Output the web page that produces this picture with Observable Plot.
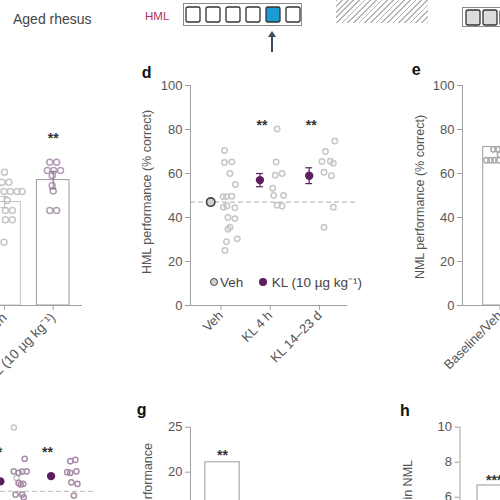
<!DOCTYPE html>
<html>
<head>
<meta charset="utf-8">
<script src="https://cdn.jsdelivr.net/npm/d3@7"></script>
<script src="https://cdn.jsdelivr.net/npm/@observablehq/plot@0.6"></script>
<style>
html,body{margin:0;padding:0;background:#fff;}
#root{position:relative;width:500px;height:500px;overflow:hidden;background:#fff;font-family:"Liberation Sans",Arial,sans-serif;color:#555;}
#root > *{position:absolute;}
.panel{font-weight:bold;font-size:16px;color:#111;line-height:16px;white-space:nowrap;}
.ylab{font-size:12.5px;color:#555;line-height:14px;white-space:nowrap;}
.txt{white-space:nowrap;}
</style>
</head>
<body>
<div id="root"></div>
<script>
// ================= DATA =================
// panel c (partial, left)
const cCategories = ["Veh", "KL (10 µg kg⁻¹)"];
const cMeans = [47, 57];
const cSem = [2.5, 4];
const cVehValues = [60.6, 56, 56, 51.8, 51.8, 51.8, 51.8, 47.7, 43.2, 43.2, 39, 39, 28.8];
const cVehJitter = [0, -0.05, 0.09, -0.01, 0.12, 0.26, 0.36, 0.055, 0.02, 0.16, 0.02, 0.16, -0.01];
const cKlValues = [65.1, 65.1, 61.4, 61.4, 61.4, 59.1, 54.5, 52, 43.2, 43.2];
const cKlJitter = [-0.07, 0.07, -0.12, 0.01, 0.15, -0.02, -0.02, 0, -0.07, 0.07];
const cStars = [{category: 1, y: 77.7, label: "**"}];

// panel d
const dCategories = ["Veh", "KL 4 h", "KL 14–23 d"];
const dMeans = [47, 57, 59];
const dSem = [1, 3, 3.6];
const dBaseline = 47;
const dVehValues = [70.5, 65, 65.3, 60, 55, 49.5, 49.5, 49.7, 44.7, 44.4, 45.2, 40, 39.5, 35.6, 34.7, 30.3, 29, 25];
const dVehJitter = [0.07, 0.07, 0.22, 0.18, 0.29, 0.04, 0.11, 0.22, 0.05, 0.28, 0.12, 0.14, 0.28, 0.18, 0.14, 0.33, 0.11, 0.08];
const dKl4Values = [80.2, 65.2, 59.2, 60, 53.3, 50, 50, 45.6, 45.2];
const dKl4Jitter = [0.14, 0.12, 0.10, 0.24, 0.05, 0.07, 0.27, 0.14, 0.24];
const dKl14Values = [74.8, 70, 65.5, 65.6, 64.7, 60.6, 59, 44.7, 35.6];
const dKl14Jitter = [0.31, 0.12, 0.05, 0.22, 0.28, 0.09, 0.24, 0.28, 0.09];
const dStars = [{category: 1, y: 83.5, label: "**"}, {category: 2, y: 83.5, label: "**"}];
const dTicks = [0, 20, 40, 60, 80, 100];

// panel e (partial, right)
const eCategories = ["Baseline/Veh"];
const eMeans = [72];
const eValues = [71, 71, 68.5, 66, 66, 66, 66];
const eJitter = [-0.13, -0.05, 0, -0.27, -0.19, -0.11, -0.03];

// panel f (partial, bottom left)
const fMeans = [75.5, 77.9];
const fBaseline = 71;
const fVehValues = [100, 77.1];
const fVehJitter = [0.065, 0.12];
const fAValues = [85.8, 80.1, 79.4, 80, 80.1, 74.8, 74.1, 74.4, 69.5, 69.5, 68.3];
const fAJitter = [0.28, 0.065, 0.16, 0.23, 0.32, 0.16, 0.2, 0.25, 0.1, 0.23, 0.26];
const fBValues = [84.7, 85.3, 79.7, 79.4, 80.1, 75.1, 74.4, 69.1];
const fBJitter = [0.18, 0.28, 0.12, 0.18, 0.3, 0.2, 0.32, 0.25];
const fStars = [{category: 0, y: 90.5, label: "**"}, {category: 1, y: 90.5, label: "**"}];

// panel g (partial)
const gValues = [21.1];
const gStars = [{category: 0, y: 22.3, label: "**"}];
const gTicks = [0, 5, 10, 15, 20, 25];

// panel h (partial)
const hValues = [6.67];
const hStars = [{category: 0, y: 7.2, label: "***"}];
const hTicks = [0, 2, 4, 6, 8, 10];

// header schematic
const hmlSlots = [1, 2, 3, 4, 5, 6];
const hmlTarget = 5;
const nmlSlots = [1, 2, 3];

// ================= HELPERS =================
const AX = "#a0a0a0", TX = "#555", PURPLE = "#5b1f5d", LIGHT = "#c6c6c6", LPURP = "#b39cb5";
const root = document.getElementById("root");
const baseStyle = {fontFamily: "'Liberation Sans', Arial, sans-serif", fontSize: "13px", color: TX, background: "transparent", overflow: "visible"};
function place(node, left, top) { node.style.left = left + "px"; node.style.top = top + "px"; root.appendChild(node); return node; }
function html(str, cls, left, top, extra) {
  const el = document.createElement("div");
  el.className = cls; el.innerHTML = str;
  if (extra) Object.assign(el.style, extra);
  return place(el, left, top);
}
function ylabCenter(str, cx, cy) {
  const el = document.createElement("div");
  el.className = "ylab"; el.textContent = str;
  el.style.transform = "translate(-50%,-50%) rotate(-90deg)";
  return place(el, cx, cy);
}
function ylabEnd(str, cx, yEnd) {
  const el = document.createElement("div");
  el.className = "ylab"; el.textContent = str;
  el.style.right = (500 - cx) + "px"; el.style.top = (yEnd - 7) + "px";
  el.style.transformOrigin = "100% 50%"; el.style.transform = "rotate(-90deg)";
  root.appendChild(el); return el;
}
const pts = (vals, jit, cat) => vals.map((v, i) => ({x: cat + jit[i], v}));
const errs = (means, sems, off) => means.map((m, i) => ({x: i + off, m, lo: m - sems[i], hi: m + sems[i]}));
const starMark = (data, off) => Plot.text(data, {x: d => d.category + off, y: "y", text: "label", fontSize: 14, fill: "#333", dy: 4, fontWeight: "bold"});

// ================= PANEL c (partial) =================
{
  const xd = [-1.725, 1.766];
  const p = Plot.plot({
    width: 200, height: 320, marginLeft: 20, marginRight: 10, marginTop: 25, marginBottom: 75,
    x: {domain: xd}, y: {domain: [0, 100], axis: null}, style: baseStyle,
    marks: [
      Plot.rectY(cMeans, {x1: (d, i) => i - 0.335, x2: (d, i) => i + 0.335, y: d => d, fill: "white", stroke: (d, i) => i === 0 ? "#c4c4c4" : "#9a9a9a"}),
      Plot.ruleY([0], {x1: xd[0], x2: 1.6, stroke: AX}),
      Plot.axisX({ticks: [0, 1], tickFormat: i => cCategories[i], tickRotate: -45, tickSize: 5, tickPadding: 5, label: null, stroke: AX, fill: TX, fontSize: 13.5}),
      Plot.dot(pts(cVehValues, cVehJitter, 0), {x: "x", y: "v", r: 3, stroke: LIGHT, fill: "none"}),
      Plot.dot(pts(cKlValues, cKlJitter, 1), {x: "x", y: "v", r: 3, stroke: LPURP, fill: "none"}),
      Plot.ruleX(errs(cMeans, cSem, 0), {x: "x", y1: "lo", y2: "hi", stroke: (d, i) => i === 0 ? "#bbb" : "#8f6a90"}),
      Plot.ruleY(errs(cMeans, cSem, 0), {x1: d => d.x - 0.07, x2: d => d.x + 0.07, y: "hi", stroke: (d, i) => i === 0 ? "#bbb" : "#8f6a90"}),
      Plot.ruleY(errs(cMeans, cSem, 0), {x1: d => d.x - 0.07, x2: d => d.x + 0.07, y: "lo", stroke: (d, i) => i === 0 ? "#bbb" : "#8f6a90"}),
      starMark(cStars, 0)
    ]
  });
  place(p, -100, 60);
}

// ================= PANEL d =================
{
  const xd = [-0.62, 2.73];
  const off = -0.21;
  const e = errs(dMeans, dSem, off);
  const p = Plot.plot({
    width: 240, height: 320, marginLeft: 60, marginRight: 15, marginTop: 25, marginBottom: 75,
    x: {domain: xd}, y: {domain: [0, 100]}, style: baseStyle,
    marks: [
      Plot.ruleY([dBaseline], {x1: xd[0], x2: xd[1], stroke: "#aaa", strokeDasharray: "5,3"}),
      Plot.ruleX([xd[0]], {y1: 0, y2: 100, stroke: AX}),
      Plot.ruleY([0], {x1: xd[0], x2: 2.57, stroke: AX}),
      Plot.axisY({ticks: dTicks, tickSize: 5, tickPadding: 3, label: null, stroke: AX, fill: TX}),
      Plot.axisX({ticks: [0, 1, 2], tickFormat: i => dCategories[i], tickRotate: -45, tickSize: 5, tickPadding: 3, label: null, stroke: AX, fill: TX}),
      Plot.dot(pts(dVehValues, dVehJitter, 0), {x: "x", y: "v", r: 2.7, stroke: LIGHT, fill: "none"}),
      Plot.dot(pts(dKl4Values, dKl4Jitter, 1), {x: "x", y: "v", r: 2.7, stroke: LIGHT, fill: "none"}),
      Plot.dot(pts(dKl14Values, dKl14Jitter, 2), {x: "x", y: "v", r: 2.7, stroke: LIGHT, fill: "none"}),
      Plot.ruleX(e, {x: "x", y1: "lo", y2: "hi", stroke: (d, i) => i === 0 ? "#555" : PURPLE, strokeWidth: 1.2}),
      Plot.ruleY(e, {x1: d => d.x - 0.07, x2: d => d.x + 0.07, y: "hi", stroke: (d, i) => i === 0 ? "#555" : PURPLE, strokeWidth: 1.2}),
      Plot.ruleY(e, {x1: d => d.x - 0.07, x2: d => d.x + 0.07, y: "lo", stroke: (d, i) => i === 0 ? "#555" : PURPLE, strokeWidth: 1.2}),
      Plot.dot(e.slice(0, 1), {x: "x", y: "m", r: 4.2, fill: "#d0d0d0", stroke: "#444", strokeWidth: 1.6}),
      Plot.dot(e.slice(1), {x: "x", y: "m", r: 4.2, fill: PURPLE}),
      starMark(dStars, -0.17)
    ]
  });
  place(p, 130, 60);
  html("d", "panel", 141.7, 65);
  ylabCenter("HML performance (% correct)", 146.7, 192);
  // legend
  html("", "", 210, 277.7, {width: "8px", height: "8px", boxSizing: "border-box", border: "1.6px solid #444", background: "#d0d0d0", borderRadius: "50%"});
  html("Veh", "txt", 220, 274.5, {fontSize: "13.5px", color: "#444", lineHeight: "15px"});
  html("", "", 259.3, 277.7, {width: "8px", height: "8px", background: PURPLE, borderRadius: "50%"});
  html("KL (10 µg kg⁻¹)", "txt", 271.7, 274.5, {fontSize: "13.5px", color: "#444", lineHeight: "15px"});
}

// ================= PANEL e (partial) =================
{
  const xd = [-0.75, 2.25];
  const p = Plot.plot({
    width: 240, height: 320, marginLeft: 82, marginRight: 8, marginTop: 25, marginBottom: 75,
    x: {domain: xd}, y: {domain: [0, 100]}, style: baseStyle,
    marks: [
      Plot.rectY(eMeans, {x1: (d, i) => i - 0.335, x2: (d, i) => i + 0.335, y: d => d, fill: "white", stroke: "#9a9a9a"}),
      Plot.ruleX([xd[0]], {y1: 0, y2: 100, stroke: AX}),
      Plot.ruleY([0], {x1: xd[0], x2: xd[1], stroke: AX}),
      Plot.axisY({ticks: dTicks, tickSize: 5, tickPadding: 3, label: null, stroke: AX, fill: TX}),
      Plot.axisX({ticks: [0], tickFormat: i => eCategories[i], tickRotate: -45, tickSize: 5, tickPadding: 3, label: null, stroke: AX, fill: TX}),
      Plot.dot(pts(eValues, eJitter, 0), {x: "x", y: "v", r: 2.7, stroke: "#aaa", fill: "none"})
    ]
  });
  place(p, 380, 60);
  html("e", "panel", 411.7, 61.7);
  ylabCenter("NML performance (% correct)", 420, 196.5);
}

// ================= PANEL f (partial) =================
{
  const xd = [-1.775, 1.637];
  const off = -0.2;
  const p = Plot.plot({
    width: 200, height: 300, marginLeft: 20, marginRight: 7, marginTop: 47, marginBottom: 33,
    x: {domain: xd, axis: null}, y: {domain: [0, 100], axis: null}, style: baseStyle,
    marks: [
      Plot.ruleY([fBaseline], {x1: xd[0], x2: xd[1], stroke: "#bbb", strokeDasharray: "5,3"}),
      Plot.dot(pts(fVehValues, fVehJitter, 0), {x: "x", y: "v", r: 2.6, stroke: LIGHT, fill: "none"}),
      Plot.dot(pts(fAValues, fAJitter, 0), {x: "x", y: "v", r: 2.6, stroke: "#a88ca9", fill: "none"}),
      Plot.dot(pts(fBValues, fBJitter, 1), {x: "x", y: "v", r: 2.6, stroke: "#a88ca9", fill: "none"}),
      Plot.dot(fMeans.map((m, i) => ({x: i + off, m})), {x: "x", y: "m", r: 4.2, fill: PURPLE}),
      starMark(fStars, -0.27)
    ]
  });
  place(p, -100, 380);
}

// ================= PANEL g (partial) =================
{
  const xd = [-0.64, 0.96];
  const p = Plot.plot({
    width: 150, height: 290, marginLeft: 60, marginRight: 10, marginTop: 46.7, marginBottom: 18.3,
    x: {domain: xd, axis: null}, y: {domain: [0, 25]}, style: baseStyle,
    marks: [
      Plot.rectY(gValues, {x1: (d, i) => i - 0.343, x2: (d, i) => i + 0.343, y: d => d, fill: "white", stroke: "#9a9a9a"}),
      Plot.ruleX([xd[0]], {y1: 0, y2: 25, stroke: AX}),
      Plot.axisY({ticks: gTicks, tickSize: 5, tickPadding: 3, label: null, stroke: AX, fill: TX}),
      starMark(gStars, 0)
    ]
  });
  place(p, 130, 380);
  html("g", "panel", 136.7, 401.7);
  ylabEnd("Change in HML performance", 148, 443);
}

// ================= PANEL h (partial) =================
{
  const xd = [-0.685, 1.725];
  const p = Plot.plot({
    width: 200, height: 240, marginLeft: 69.5, marginRight: 10, marginTop: 46.7, marginBottom: 18.3,
    x: {domain: xd, axis: null}, y: {domain: [0, 10]}, style: baseStyle,
    marks: [
      Plot.rectY(hValues, {x1: (d, i) => i - 0.335, x2: (d, i) => i + 0.335, y: d => d, fill: "white", stroke: "#9a9a9a"}),
      Plot.ruleX([xd[0]], {y1: 0, y2: 10, stroke: AX}),
      Plot.axisY({ticks: hTicks, tickSize: 5, tickPadding: 3, label: null, stroke: AX, fill: TX}),
      starMark(hStars, 0)
    ]
  });
  place(p, 390, 380);
  html("h", "panel", 400, 402.7);
  ylabEnd("Change in NML", 407.5, 460);
}

// ================= HEADER =================
html("Aged rhesus", "txt", 13, 11.4, {fontSize: "14px", color: "#444", lineHeight: "16px"});
html("HML", "txt", 145, 9.5, {fontSize: "11.5px", color: "#b0305e", lineHeight: "13px"});
html("", "", 183, 3, {width: "119px", height: "23px", boxSizing: "border-box", border: "1px solid #8a8a8a"});
{
  const p = Plot.plot({
    width: 130, height: 30, marginTop: 7, marginBottom: 8, marginLeft: 0, marginRight: 0,
    x: {type: "band", domain: hmlSlots, range: [3, 123], paddingInner: 0.3, paddingOuter: 0.15, axis: null},
    style: {background: "transparent", overflow: "visible"},
    marks: [Plot.cell(hmlSlots, {x: d => d, fill: d => d === hmlTarget ? "#1b9ad6" : "white", stroke: "#333", strokeWidth: 1.3, rx: 2, inset: 0})]
  });
  place(p, 180, 0);
}
// arrow pointing at target slot
html("", "", 271.2, 34, {width: "1.6px", height: "18px", background: "#3a4a5a"});
html("", "", 268, 30.5, {width: "0", height: "0", borderLeft: "4px solid transparent", borderRight: "4px solid transparent", borderBottom: "6px solid #3a4a5a"});
// hatched block
html("", "", 336, 0, {width: "92px", height: "23px", background: "repeating-linear-gradient(135deg, #b5b5b5 0 1.2px, #fff 1.2px 4px)"});
// NML box
html("", "", 461.7, 6.7, {width: "60px", height: "20.6px", boxSizing: "border-box", border: "1px solid #8a8a8a"});
{
  const p = Plot.plot({
    width: 60, height: 27, marginTop: 10, marginBottom: 2, marginLeft: 0, marginRight: 0,
    x: {type: "band", domain: nmlSlots, range: [0, 57], paddingInner: 0.167, paddingOuter: 0.167, axis: null},
    style: {background: "transparent", overflow: "visible"},
    marks: [Plot.cell(nmlSlots, {x: d => d, fill: "#dcdcdc", stroke: "#333", strokeWidth: 1.3, rx: 2, inset: 0})]
  });
  place(p, 462, 0);
}
</script>
</body>
</html>
